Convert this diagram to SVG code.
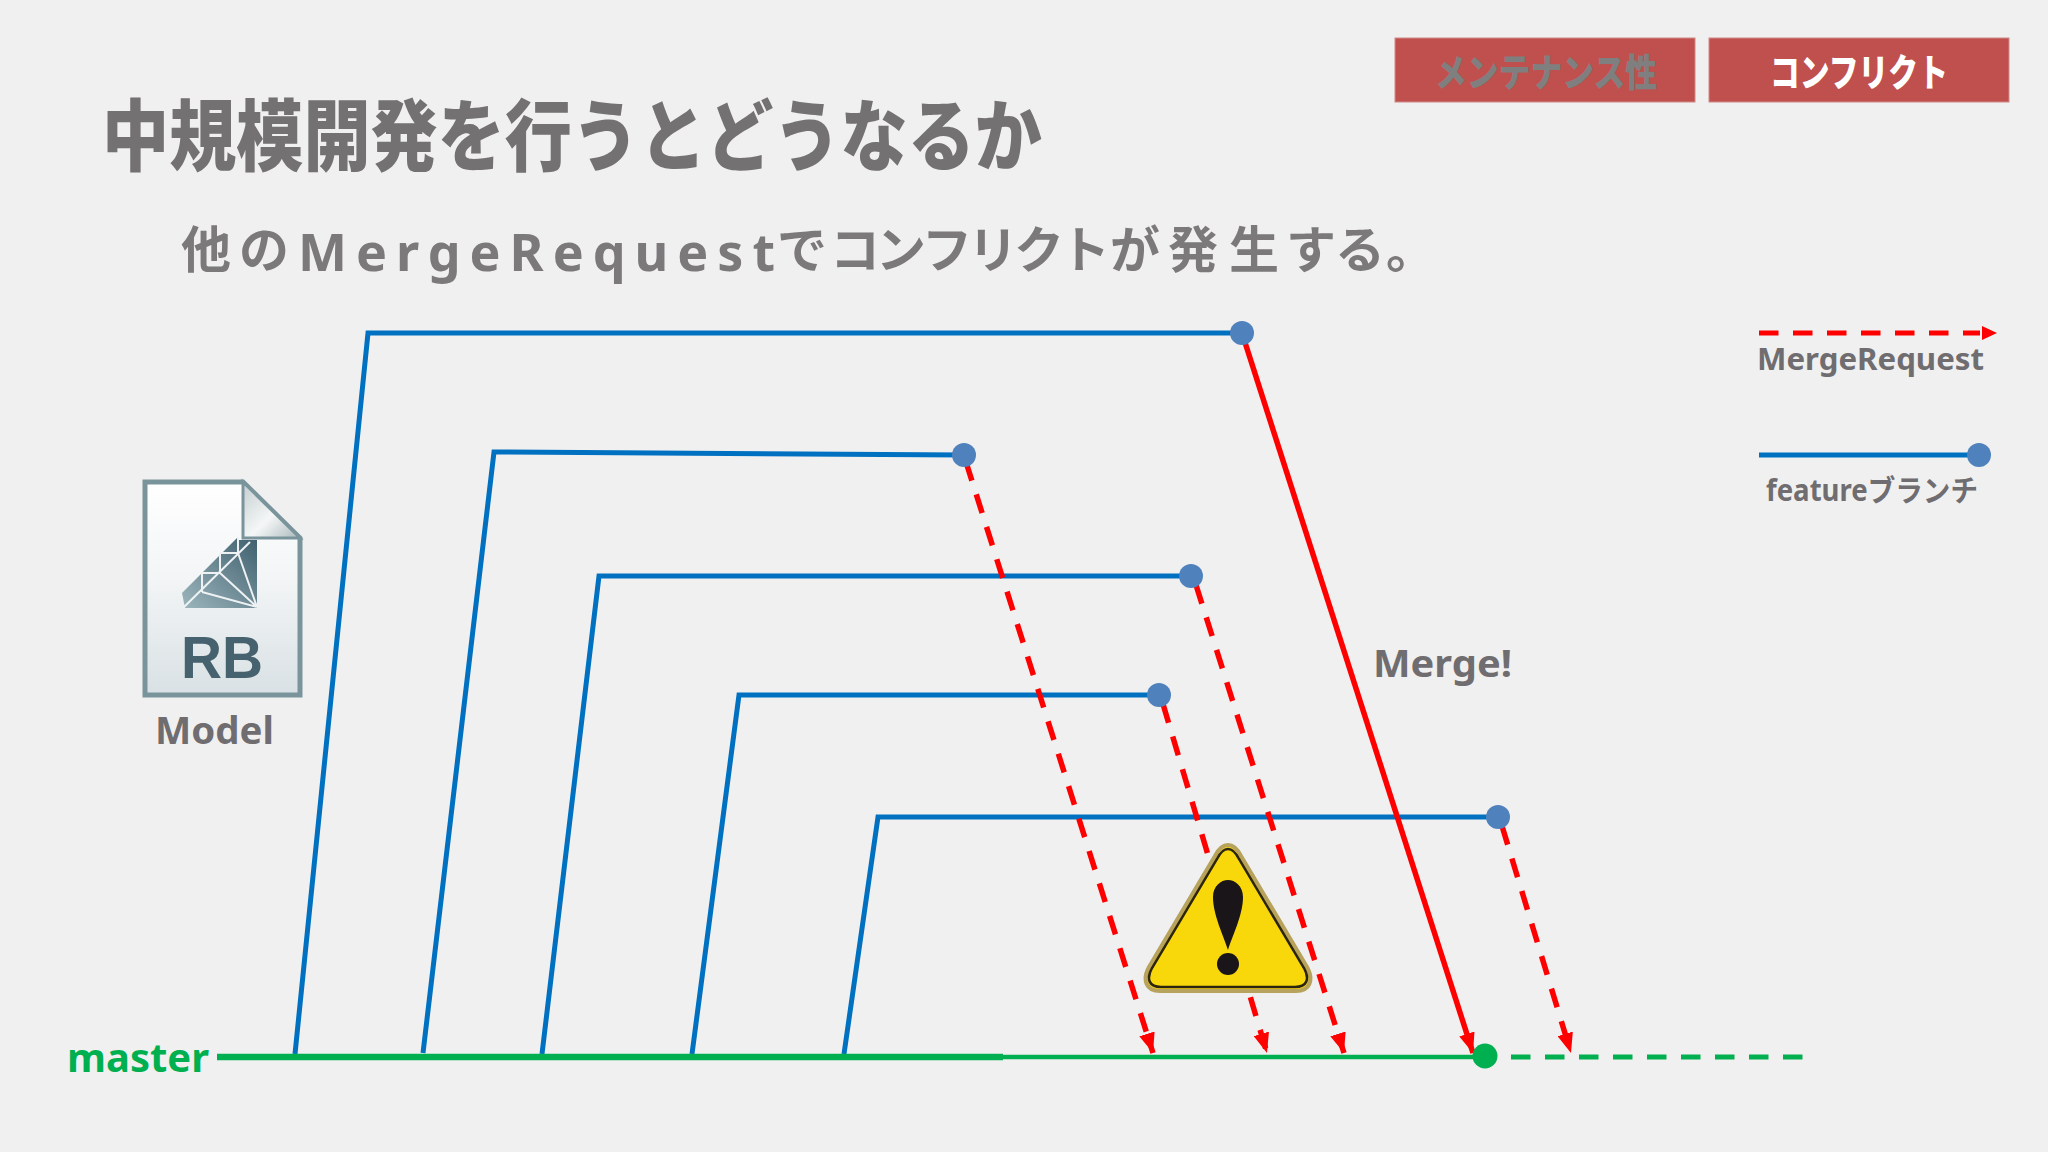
<svg xmlns="http://www.w3.org/2000/svg" width="2048" height="1152" viewBox="0 0 2048 1152">
<style>
text{font-family:"Noto Sans","Noto Sans CJK JP",sans-serif;font-weight:700;fill:#6f6d6f}
.jp{font-family:"Noto Sans CJK JP",sans-serif}
.sub{fill:#7b797a;font-size:50px}
.tag{fill:#C0504D;stroke:#d08a88;stroke-width:1}
.blue{fill:none;stroke:#0070C0;stroke-width:5}
.req{fill:none;stroke:#FF0000;stroke-width:5.5;stroke-dasharray:19.5 14.5;marker-end:url(#arrow)}
.solid{fill:none;stroke:#FF0000;stroke-width:5.5;marker-end:url(#arrow)}
.dot{fill:#4F81BD}
.m{fill:none;stroke:#00B050}
</style>
<defs>
<marker id="arrow" markerUnits="userSpaceOnUse" viewBox="0 0 20 16" markerWidth="20" markerHeight="16" refX="20" refY="8" orient="auto"><path d="M0 0L20 8L0 16Z" fill="#FF0000"/></marker>
<linearGradient id="page" x1="0" y1="0" x2="0" y2="1"><stop offset="0" stop-color="#ffffff"/><stop offset=".45" stop-color="#f3f5f6"/><stop offset="1" stop-color="#d9e1e4"/></linearGradient>
<linearGradient id="fold" x1="0" y1="0" x2="1" y2="1"><stop offset="0" stop-color="#c3cdd0"/><stop offset=".55" stop-color="#f5f7f7"/><stop offset="1" stop-color="#a9b7bb"/></linearGradient>
<linearGradient id="gem" x1="1" y1="0" x2="0" y2="1"><stop offset="0" stop-color="#3f5f6e"/><stop offset="1" stop-color="#9db6bd"/></linearGradient>
</defs>
<rect width="2048" height="1152" fill="#F1F0F1"/>

<g id="tag-maintenance"><rect class="tag" x="1395" y="38" width="300" height="64"/><text class="jp" x="1435" y="86" font-size="38" textLength="222" lengthAdjust="spacingAndGlyphs" style="fill:#7f7f7f;font-weight:900">メンテナンス性</text></g>
<g id="tag-conflict"><rect class="tag" x="1709" y="38" width="300" height="64"/><text class="jp" x="1770" y="86" font-size="38" textLength="178" lengthAdjust="spacingAndGlyphs" style="fill:#fff;font-weight:900">コンフリクト</text></g>
<g id="title"><text class="jp" x="102" y="165" font-size="78" textLength="940" lengthAdjust="spacingAndGlyphs" style="font-weight:900;fill:#737172">中規模開発を行うとどうなるか</text></g>
<g id="subtitle">
<text class="jp sub" y="268" x="181 239">他の</text>
<text class="sub" x="298" y="271" style="font-size:52px;font-family:'Noto Sans',sans-serif" textLength="477" lengthAdjust="spacing">MergeRequest</text>
<text class="jp sub" y="268" x="777 830 876 922 968 1014 1060 1110 1168 1229 1286 1335 1386">でコンフリクトが発生する。</text>
</g>

<g id="connectors">
<path class="blue" d="M295 1054L368 333H1242"/>
<path class="blue" d="M423 1053L494 452L964 455"/>
<path class="blue" d="M542 1054L599 576H1191"/>
<path class="blue" d="M692 1054L739 695H1159"/>
<path class="blue" d="M844 1054L878 817H1498"/>
<path class="m" stroke-width="6.5" d="M217 1057H1003"/>
<path class="m" stroke-width="4.5" d="M1003 1057H1478"/>
<path class="m" stroke-width="5" stroke-dasharray="19.5 14.5" d="M1511 1057H1803"/>
<path class="req" d="M966 462L1153 1053"/>
<path class="req" d="M1196 585L1344 1053"/>
<path class="req" d="M1163 704L1267 1053"/>
<path class="req" d="M1502 826L1571 1053"/>
<path class="solid" d="M1242 333L1473 1053"/>
</g>

<g id="branch-1"><circle class="dot" cx="1242" cy="333" r="12"/></g>
<g id="branch-2"><circle class="dot" cx="964" cy="455" r="12"/></g>
<g id="branch-3"><circle class="dot" cx="1191" cy="576" r="12"/></g>
<g id="branch-4"><circle class="dot" cx="1159" cy="695" r="12"/></g>
<g id="branch-5"><circle class="dot" cx="1498" cy="817" r="12"/></g>
<g id="merge-point"><circle cx="1485" cy="1056" r="12.5" fill="#00B050"/></g>
<g id="master-label"><text x="67" y="1072" font-size="40" textLength="142" lengthAdjust="spacingAndGlyphs" style="fill:#00B050">master</text></g>
<g id="merge-label"><text x="1373" y="677" font-size="38" textLength="139" lengthAdjust="spacingAndGlyphs">Merge!</text></g>

<g id="warning">
<path d="M1228 845C1222 845 1218 850 1215 856L1149 967C1142 980 1146 991 1160 991H1296C1310 991 1314 980 1307 967L1241 856C1238 850 1234 845 1228 845Z" fill="#FFD90A" stroke="#b7a35c" stroke-width="4"/>
<path d="M1228 849C1223 849 1220 853 1217 859L1152 968C1146 979 1149 987 1161 987H1295C1307 987 1310 979 1304 968L1239 859C1236 853 1233 849 1228 849Z" fill="#F9D80B" stroke="#2a2410" stroke-width="2.5"/>
<path d="M1228 880C1235 880 1243 886 1243 897C1243 915 1232 937 1228 950C1224 937 1213 915 1213 897C1213 886 1221 880 1228 880Z" fill="#1a1518"/>
<ellipse cx="1228" cy="964" rx="11" ry="11" fill="#1a1518"/>
</g>

<g id="model-icon">
<path d="M145 482H243L300 538V695H145Z" fill="url(#page)" stroke="#7a949c" stroke-width="5"/>
<path d="M243 482V538H300Z" fill="url(#fold)" stroke="#7a949c" stroke-width="3"/>
<path d="M238 537V540H257V608H185L182 593Z" fill="url(#gem)"/>
<path d="M250 542L183 608M257 607L238 553M257 607L220 573M257 607L202 592M220 553H238M202 573H220M220 553V573M202 573V592M238 537V553" fill="none" stroke="#eef2f3" stroke-width="2"/>
<text x="181" y="678" font-size="60" textLength="82" lengthAdjust="spacingAndGlyphs" style="fill:#47626f;font-family:'Liberation Sans',sans-serif">RB</text>
</g>
<g id="model-label"><text x="155" y="744" font-size="38" textLength="119" lengthAdjust="spacingAndGlyphs">Model</text></g>

<g id="legend-request">
<path d="M1759 333H1980" fill="none" stroke="#FF0000" stroke-width="5" stroke-dasharray="19.5 14.5"/>
<path d="M1982 326L1997 333L1982 340Z" fill="#FF0000"/>
<text x="1757" y="370" font-size="30" textLength="227" lengthAdjust="spacingAndGlyphs">MergeRequest</text>
</g>
<g id="legend-branch">
<path class="blue" d="M1759 455H1975"/>
<circle class="dot" cx="1979" cy="455" r="12"/>
<text x="1766" y="501" font-size="30" textLength="212" lengthAdjust="spacingAndGlyphs">featureブランチ</text>
</g>
</svg>
